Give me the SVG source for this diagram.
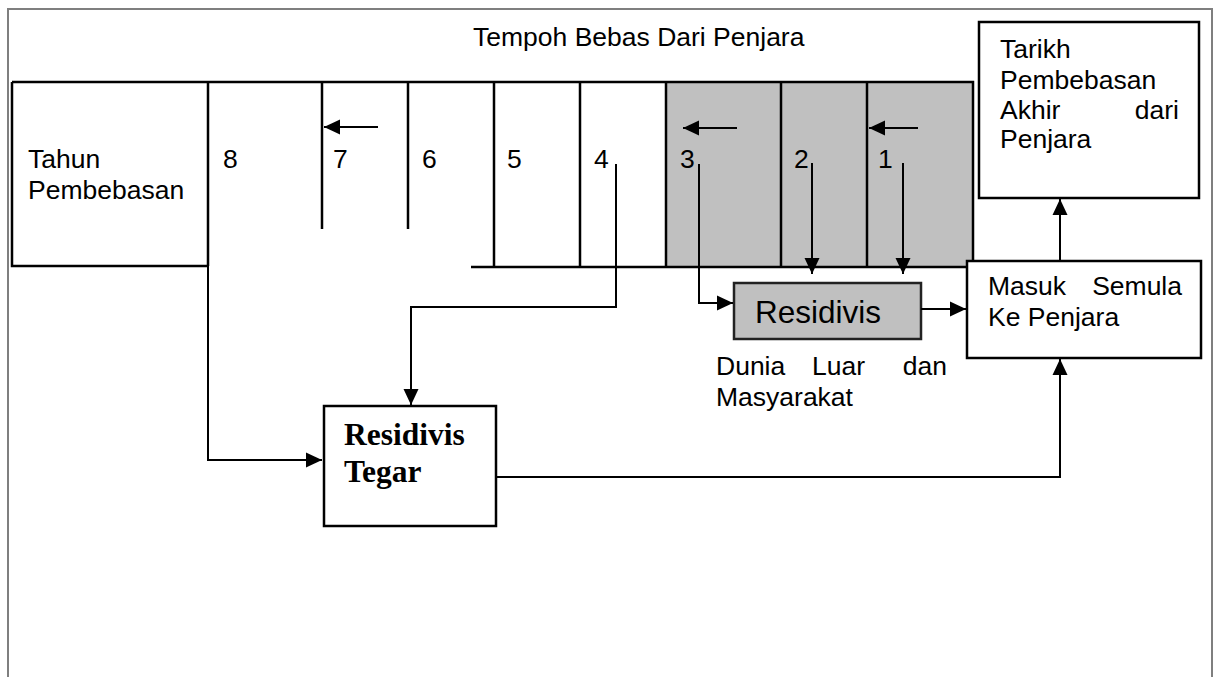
<svg xmlns="http://www.w3.org/2000/svg" width="1216" height="677" viewBox="0 0 1216 677">
<defs>
<style>
.t{font-family:"Liberation Sans",Arial,sans-serif;font-size:26.5px;fill:#000}
.big{font-family:"Liberation Sans",Arial,sans-serif;font-size:31.5px;fill:#000}
.bold{font-family:"Liberation Serif","Times New Roman",serif;font-size:31.5px;font-weight:bold;fill:#000}
.ln{stroke:#000;stroke-width:2.5;fill:none}
.box{stroke:#000;stroke-width:2.5;fill:#fff}
.c{stroke:#000;stroke-width:2;fill:none;marker-end:url(#ah)}
</style>
<marker id="ah" viewBox="0 0 16 16" refX="16" refY="8" markerWidth="16" markerHeight="16" markerUnits="userSpaceOnUse" orient="auto">
<path d="M0,0.5 L16,8 L0,15.5 z" fill="#000"/>
</marker>
</defs>
<rect width="1216" height="677" fill="#fff"/>
<path d="M8,677 V9 H1212 V677" fill="none" stroke="#7f7f7f" stroke-width="2"/>

<g id="title">
<text class="t" x="473" y="46">Tempoh Bebas Dari Penjara</text>
</g>

<g id="timeline">
<rect x="666" y="82" width="307" height="185" fill="#c0c0c0"/>
<path class="ln" d="M12,82 H973 V267 M12,82 V266 H208 M208,82 V266 M322,82 V229 M408,82 V229 M494,82 V267 M580,82 V267 M666,82 V267 M781,82 V267 M867,82 V267 M471,267 H973"/>
<text class="t" x="28" y="168">Tahun</text>
<text class="t" x="28" y="199">Pembebasan</text>
<text class="t" x="223" y="168">8</text>
<text class="t" x="333" y="168">7</text>
<text class="t" x="422" y="168">6</text>
<text class="t" x="507" y="168">5</text>
<text class="t" x="594" y="168">4</text>
<text class="t" x="680" y="168">3</text>
<text class="t" x="794" y="168">2</text>
<text class="t" x="878" y="168">1</text>
</g>

<g id="tarikh">
<rect class="box" x="979" y="22" width="220" height="176"/>
<text class="t" x="1000" y="58">Tarikh</text>
<text class="t" x="1000" y="89">Pembebasan</text>
<text class="t" x="1000" y="119">Akhir</text>
<text class="t" x="1179" y="119" text-anchor="end">dari</text>
<text class="t" x="1000" y="148">Penjara</text>
</g>

<g id="masuk">
<rect class="box" x="967" y="261" width="234" height="97"/>
<text class="t" x="988" y="295">Masuk</text>
<text class="t" x="1182" y="295" text-anchor="end">Semula</text>
<text class="t" x="988" y="326">Ke Penjara</text>
</g>

<g id="residivis">
<rect x="734" y="283" width="187" height="56" fill="#c0c0c0" stroke="#222" stroke-width="2.5"/>
<text class="big" x="755" y="323">Residivis</text>
</g>

<g id="dunia">
<text class="t" x="716" y="375">Dunia</text>
<text class="t" x="812" y="375">Luar</text>
<text class="t" x="947" y="375" text-anchor="end">dan</text>
<text class="t" x="716" y="406">Masyarakat</text>
</g>

<g id="tegar">
<rect class="box" x="324" y="406" width="172" height="120"/>
<text class="bold" x="344" y="445">Residivis</text>
<text class="bold" x="344" y="482">Tegar</text>
</g>

<g id="connectors">
<path class="c" d="M208,163 V460 H322"/>
<path class="c" d="M616,164 V307 H411 V405"/>
<path class="c" d="M699,164 V303 H733"/>
<path class="c" d="M812,163 V274"/>
<path class="c" d="M903,163 V274"/>
<path class="c" d="M921,309 H966"/>
<path class="c" d="M496,477 H1060 V359"/>
<path class="c" d="M1060,261 V199"/>
<path class="c" d="M378,127 H324"/>
<path class="c" d="M737,128 H683"/>
<path class="c" d="M918,128 H869"/>
</g>
</svg>
